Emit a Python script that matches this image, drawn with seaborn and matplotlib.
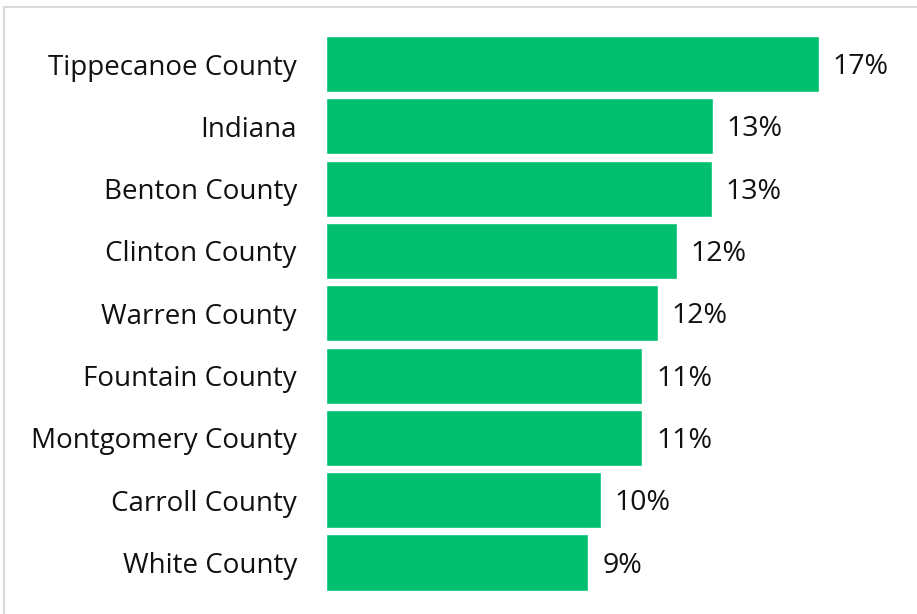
import matplotlib
matplotlib.use("Agg")
import matplotlib.pyplot as plt
import seaborn as sns
import pandas as pd
from matplotlib.patches import Rectangle

counties = [
    "Tippecanoe County",
    "Indiana",
    "Benton County",
    "Clinton County",
    "Warren County",
    "Fountain County",
    "Montgomery County",
    "Carroll County",
    "White County",
]
shares = [17.14, 13.45, 13.42, 12.20, 11.54, 11.00, 11.00, 9.56, 9.12]

df = pd.DataFrame({"area": counties, "share": shares})

sns.set_theme(style="white")
plt.rcParams["font.family"] = ["Open Sans", "DejaVu Sans"]

fig = plt.figure(figsize=(9.17, 6.14), dpi=100)
ax = fig.add_axes([326 / 917, 1 - 593.7 / 614, 575.4 / 917, (593.7 - 32.85) / 614])

sns.barplot(data=df, x="share", y="area", color="#00BF6F", saturation=1,
            width=0.9, orient="h", ax=ax)

ax.set_xlim(0, 20)
ax.set_ylim(8.5, -0.5)
ax.set_xlabel("")
ax.set_ylabel("")
ax.set_xticks([])
for s in ax.spines.values():
    s.set_visible(False)
ax.tick_params(axis="y", length=0, pad=21, labelsize=20, labelcolor="#111111")

for i, v in enumerate(shares):
    ax.text(v + 0.48, i + 0.05, f"{v:.0f}%", va="center", ha="left",
            fontsize=20.5, color="#111111")

# light frame around the chart area
fig.patches.append(Rectangle((4 / 917, -0.05), 1.1, 1 - 7 / 614 + 0.05,
                             transform=fig.transFigure, fill=False,
                             edgecolor="#d9d9d9", linewidth=1.5))

fig.savefig("out.png", dpi=100)
